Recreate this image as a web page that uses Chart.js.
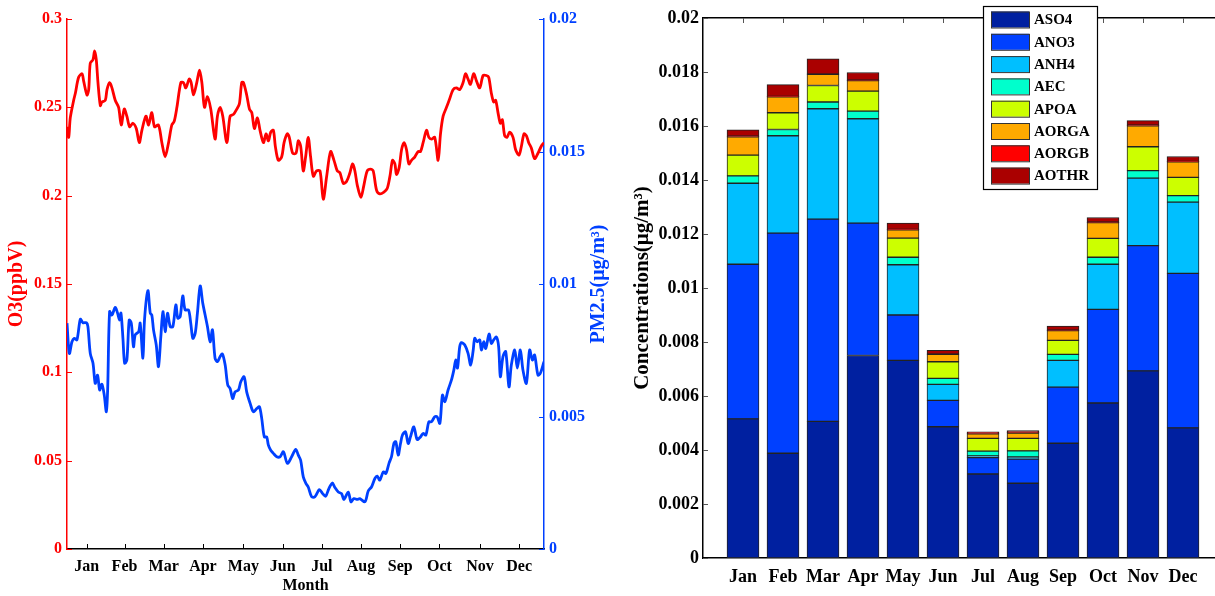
<!DOCTYPE html>
<html>
<head>
<meta charset="utf-8">
<script src="https://cdn.jsdelivr.net/npm/chart.js@4.4.1/dist/chart.umd.min.js"></script>
<style>
  html, body { margin: 0; padding: 0; overflow: hidden; background: #fff; }
  body { width: 1215px; height: 596px; position: relative; }
  #lineChart { position: absolute; left: 0; top: 0; }
  #barChart { position: absolute; left: 620px; top: 0; }
</style>
</head>
<body>
<canvas id="lineChart" width="620" height="596"></canvas>
<canvas id="barChart" width="640" height="596"></canvas>
<script>
const months = ['Jan', 'Feb', 'Mar', 'Apr', 'May', 'Jun', 'Jul', 'Aug', 'Sep', 'Oct', 'Nov', 'Dec'];
// day of year where each month tick sits on the left panel
const monthTickDay = [15, 44, 74, 104, 135, 165, 195, 225, 255, 285, 316, 346];

// O3 daily curve
const o3Day = [
  0, 1.3, 2.5, 5.1, 6.4, 8.9, 11.5, 12.7, 15.3, 16.6,
  17.8, 19.9, 21.1, 22.4, 23.7, 25.5, 26.7, 29.3, 30.6, 32.6,
  34.4, 36.9, 39.5, 41.5, 43.8, 45.8, 47.9, 50.4, 53.0, 55.3,
  57.3, 60.4, 62.4, 64.9, 67.0, 70.0, 72.6, 75.1, 77.7, 80.2,
  82.0, 84.1, 87.1, 89.1, 90.9, 93.5, 95.0, 96.8, 99.3, 101.4,
  103.2, 105.2, 107.5, 110.0, 113.3, 115.1, 117.2, 119.2, 122.3, 124.8,
  127.4, 129.9, 131.9, 133.7, 135.0, 137.5, 139.6, 141.4, 143.4, 145.7,
  147.7, 150.3, 152.3, 154.1, 155.9, 157.9, 159.4, 161.7, 164.3, 166.1,
  168.6, 170.1, 172.7, 175.2, 177.0, 178.8, 180.8, 182.6, 184.6, 186.4,
  188.5, 191.0, 193.6, 196.1, 198.7, 201.7, 204.3, 206.8, 208.8, 211.4,
  213.9, 216.5, 218.5, 220.3, 222.1, 224.9, 227.2, 229.7, 232.3, 234.3,
  236.9, 239.4, 242.5, 245.0, 247.1, 249.1, 250.9, 252.1, 254.2, 256.0,
  258.0, 259.8, 261.6, 263.6, 266.2, 268.7, 270.5, 272.5, 275.1, 276.9,
  278.9, 281.4, 284.0, 285.8, 287.8, 290.4, 292.9, 295.4, 298.0, 300.5,
  303.1, 304.9, 306.9, 308.7, 311.2, 313.3, 315.8, 318.4, 320.9, 322.7,
  324.7, 326.5, 328.0, 329.8, 331.6, 333.1, 334.9, 336.7, 338.7, 341.3,
  343.3, 345.9, 347.7, 349.7, 351.5, 353.3, 355.3, 357.8, 360.4, 362.9,
  365
];
const o3Val = [
  0.239, 0.233, 0.244, 0.254, 0.258, 0.267, 0.269, 0.265, 0.257, 0.260,
  0.275, 0.277, 0.282, 0.277, 0.264, 0.251, 0.253, 0.254, 0.260, 0.264,
  0.261, 0.254, 0.250, 0.240, 0.249, 0.245, 0.239, 0.241, 0.238, 0.230,
  0.237, 0.245, 0.240, 0.247, 0.239, 0.240, 0.230, 0.222, 0.230, 0.240,
  0.242, 0.250, 0.264, 0.264, 0.261, 0.266, 0.264, 0.257, 0.264, 0.271,
  0.264, 0.250, 0.256, 0.249, 0.232, 0.245, 0.250, 0.245, 0.230, 0.245,
  0.246, 0.249, 0.252, 0.264, 0.264, 0.257, 0.249, 0.247, 0.238, 0.244,
  0.237, 0.230, 0.235, 0.231, 0.236, 0.237, 0.228, 0.220, 0.222, 0.230,
  0.235, 0.233, 0.224, 0.224, 0.231, 0.228, 0.214, 0.222, 0.233, 0.222,
  0.211, 0.214, 0.214, 0.198, 0.211, 0.225, 0.220, 0.214, 0.213, 0.207,
  0.208, 0.213, 0.218, 0.214, 0.206, 0.199, 0.206, 0.214, 0.215, 0.214,
  0.203, 0.201, 0.202, 0.204, 0.211, 0.220, 0.218, 0.212, 0.216, 0.226,
  0.230, 0.226, 0.218, 0.220, 0.222, 0.225, 0.225, 0.230, 0.237, 0.233,
  0.232, 0.233, 0.220, 0.235, 0.245, 0.250, 0.255, 0.260, 0.261, 0.260,
  0.264, 0.269, 0.266, 0.263, 0.269, 0.265, 0.261, 0.268, 0.268, 0.267,
  0.258, 0.253, 0.254, 0.247, 0.241, 0.243, 0.234, 0.233, 0.236, 0.233,
  0.226, 0.223, 0.228, 0.235, 0.234, 0.230, 0.227, 0.221, 0.224, 0.228,
  0.230
];

// PM2.5 daily curve
const pmDay = [
  0, 1.8, 3.8, 5.6, 7.6, 10.2, 12.2, 14.8, 16.0, 17.8,
  19.9, 21.6, 23.4, 25.0, 26.7, 28.5, 30.1, 31.1, 32.6, 34.4,
  36.9, 38.7, 40.2, 41.3, 42.8, 44.1, 45.8, 47.6, 49.2, 50.9,
  52.2, 54.8, 56.0, 58.1, 59.3, 61.9, 63.7, 64.9, 66.2, 68.3,
  70.0, 71.8, 73.4, 75.1, 76.9, 79.0, 81.0, 83.3, 84.8, 86.6,
  88.6, 90.4, 93.0, 94.7, 96.3, 98.1, 99.8, 101.9, 103.9, 105.7,
  107.5, 109.5, 111.3, 113.3, 115.1, 117.2, 118.9, 121.0, 123.0, 124.8,
  126.8, 128.6, 131.2, 133.0, 135.5, 137.5, 140.1, 142.6, 145.2, 147.2,
  149.0, 151.0, 152.8, 154.1, 155.9, 157.9, 160.5, 163.0, 165.6, 168.6,
  171.9, 175.0, 177.0, 178.8, 180.8, 182.9, 184.6, 187.2, 189.7, 193.1,
  195.6, 197.9, 200.4, 203.0, 205.0, 207.6, 210.1, 211.9, 215.2, 217.3,
  219.5, 222.1, 224.1, 228.0, 230.5, 233.0, 235.6, 237.4, 239.4, 242.0,
  244.0, 246.5, 248.3, 250.1, 251.6, 253.4, 255.2, 256.7, 259.0, 261.1,
  262.8, 265.4, 267.9, 270.5, 272.5, 274.6, 276.9, 278.9, 281.4, 283.2,
  285.3, 287.3, 289.1, 291.6, 294.2, 296.0, 297.5, 298.8, 300.5, 301.8,
  304.4, 306.9, 308.9, 310.7, 312.0, 313.8, 315.8, 317.1, 318.9, 320.4,
  323.0, 324.7, 326.5, 328.6, 330.3, 331.6, 333.6, 335.7, 338.2, 340.0,
  342.6, 344.6, 346.9, 348.9, 351.5, 354.0, 356.1, 357.8, 360.4, 362.2,
  365
];
const pmVal = [
  0.00852, 0.00738, 0.00782, 0.00795, 0.00789, 0.00867, 0.00854, 0.00854, 0.00839, 0.00738,
  0.00701, 0.00625, 0.00656, 0.00600, 0.00622, 0.00581, 0.00518, 0.00600, 0.00896, 0.00883,
  0.00912, 0.00890, 0.00864, 0.00890, 0.00795, 0.00701, 0.00713, 0.00864, 0.00852, 0.00763,
  0.00808, 0.00820, 0.00852, 0.00720, 0.00864, 0.00975, 0.00890, 0.00883, 0.00827, 0.00770,
  0.00688, 0.00801, 0.00896, 0.00820, 0.00890, 0.00839, 0.00839, 0.00921, 0.00871, 0.00877,
  0.00955, 0.00902, 0.00902, 0.00852, 0.00795, 0.00814, 0.00890, 0.00993, 0.00927, 0.00883,
  0.00839, 0.00782, 0.00827, 0.00720, 0.00707, 0.00726, 0.00736, 0.00695, 0.00619, 0.00606,
  0.00568, 0.00593, 0.00600, 0.00631, 0.00650, 0.00593, 0.00550, 0.00518, 0.00530, 0.00537,
  0.00493, 0.00423, 0.00423, 0.00392, 0.00373, 0.00361, 0.00348, 0.00348, 0.00367, 0.00323,
  0.00348, 0.00376, 0.00354, 0.00335, 0.00272, 0.00247, 0.00234, 0.00197, 0.00197, 0.00224,
  0.00209, 0.00199, 0.00228, 0.00249, 0.00232, 0.00215, 0.00209, 0.00187, 0.00215, 0.00178,
  0.00190, 0.00187, 0.00190, 0.00178, 0.00219, 0.00234, 0.00266, 0.00275, 0.00260, 0.00291,
  0.00285, 0.00325, 0.00348, 0.00398, 0.00405, 0.00354, 0.00398, 0.00430, 0.00442, 0.00398,
  0.00423, 0.00461, 0.00413, 0.00423, 0.00436, 0.00430, 0.00480, 0.00480, 0.00499, 0.00499,
  0.00474, 0.00581, 0.00556, 0.00600, 0.00638, 0.00675, 0.00713, 0.00683, 0.00763, 0.00779,
  0.00770, 0.00738, 0.00694, 0.00745, 0.00795, 0.00782, 0.00789, 0.00751, 0.00782, 0.00757,
  0.00811, 0.00776, 0.00789, 0.00800, 0.00763, 0.00650, 0.00726, 0.00745, 0.00612, 0.00694,
  0.00751, 0.00683, 0.00751, 0.00675, 0.00625, 0.00751, 0.00713, 0.00732, 0.00656, 0.00663,
  0.00707
];

// monthly aerosol components, stacked bottom to top
const species = ['ASO4', 'ANO3', 'ANH4', 'AEC', 'APOA', 'AORGA', 'AORGB', 'AOTHR'];
const speciesColor = ['#0020a0', '#0040ff', '#00bfff', '#00ffcc', '#ccff00', '#ffaa00', '#ff0000', '#aa0000'];
const aso4  = [0.00515, 0.00388, 0.00506, 0.00750, 0.00732, 0.00486, 0.00311, 0.00277, 0.00425, 0.00574, 0.00693, 0.00482];
const ano3  = [0.00573, 0.00815, 0.00749, 0.00490, 0.00168, 0.00098, 0.00061, 0.00089, 0.00208, 0.00347, 0.00464, 0.00572];
const anh4  = [0.00300, 0.00361, 0.00409, 0.00387, 0.00186, 0.00059, 0.00006, 0.00008, 0.00099, 0.00167, 0.00250, 0.00264];
const aec   = [0.00027, 0.00023, 0.00025, 0.00028, 0.00028, 0.00022, 0.00018, 0.00023, 0.00022, 0.00026, 0.00028, 0.00024];
const apoa  = [0.00077, 0.00062, 0.00061, 0.00074, 0.00071, 0.00062, 0.00047, 0.00046, 0.00052, 0.00070, 0.00088, 0.00068];
const aorga = [0.00068, 0.00059, 0.00041, 0.00039, 0.00030, 0.00027, 0.00017, 0.00020, 0.00036, 0.00058, 0.00078, 0.00057];
const aorgb = [0.00002, 0.00002, 0.00002, 0.00002, 0.00002, 0.00002, 0.00002, 0.00002, 0.00002, 0.00002, 0.00002, 0.00002];
const aothr = [0.00024, 0.00043, 0.00056, 0.00028, 0.00023, 0.00013, 0.00005, 0.00007, 0.00015, 0.00017, 0.00017, 0.00018];
const speciesData = [aso4, ano3, anh4, aec, apoa, aorga, aorgb, aothr];

const serif = '"Liberation Serif", "Times New Roman", serif';
Chart.defaults.font.family = serif;
Chart.defaults.font.weight = 'bold';

const trimNum = v => String(+Number(v).toFixed(4));

// matlab style ticks pointing into the plot
const innerTicks = {
  id: 'innerTicks',
  beforeDatasetsDraw(chart, args, opts) {
    const ctx = chart.ctx;
    const len = opts.length || 5;
    ctx.save();
    ctx.lineWidth = 1;
    Object.values(chart.scales).forEach(s => {
      ctx.strokeStyle = opts.color || s.options.border.color;
      s.ticks.forEach(t => {
        const p = Math.round(s.getPixelForValue(t.value)) + 0.5;
        ctx.beginPath();
        if (s.position === 'left') { ctx.moveTo(s.right, p); ctx.lineTo(s.right + len, p); }
        else if (s.position === 'right') { ctx.moveTo(s.left, p); ctx.lineTo(s.left - len, p); }
        else if (s.position === 'bottom') { ctx.moveTo(p, s.top); ctx.lineTo(p, s.top - len); }
        else { ctx.moveTo(p, s.bottom); ctx.lineTo(p, s.bottom + len); }
        ctx.stroke();
      });
    });
    ctx.restore();
  }
};

// rotated title on the right axis, read bottom to top like the left one
const sideTitle = {
  id: 'sideTitle',
  afterDraw(chart, args, o) {
    const ctx = chart.ctx;
    const a = chart.chartArea;
    ctx.save();
    ctx.translate(o.x, (a.top + a.bottom) / 2);
    ctx.rotate(-Math.PI / 2);
    ctx.font = 'bold ' + o.size + 'px ' + serif;
    ctx.fillStyle = o.color;
    ctx.textAlign = 'center';
    ctx.textBaseline = 'middle';
    ctx.fillText(o.text, 0, 0);
    ctx.restore();
  }
};

// boxed legend sitting over the top of the bar plot
const boxLegend = {
  id: 'boxLegend',
  afterDraw(chart, args, o) {
    const ctx = chart.ctx;
    ctx.save();
    ctx.fillStyle = '#fff';
    ctx.fillRect(o.x, o.y, o.w, o.h);
    ctx.strokeStyle = '#000';
    ctx.lineWidth = 1.2;
    ctx.strokeRect(o.x + 0.5, o.y + 0.5, o.w, o.h);
    ctx.font = 'bold 15px ' + serif;
    ctx.textBaseline = 'middle';
    chart.data.datasets.forEach((ds, i) => {
      const cy = o.y + o.first + i * o.step;
      ctx.fillStyle = ds.backgroundColor;
      ctx.fillRect(o.x + 8, cy - 8, 38, 16);
      ctx.strokeStyle = '#333';
      ctx.lineWidth = 1;
      ctx.strokeRect(o.x + 8.5, cy - 7.5, 38, 16);
      ctx.fillStyle = '#000';
      ctx.fillText(ds.label, o.x + 51, cy + 1);
    });
    ctx.restore();
  }
};

const setMonthTicks = s => { s.ticks = monthTickDay.map(v => ({ value: v })); };
const setBarTicks = s => { s.ticks = months.map((m, i) => ({ value: i + 1 })); };

new Chart(document.getElementById('lineChart'), {
  type: 'line',
  data: {
    datasets: [
      {
        label: 'O3',
        data: o3Day.map((d, i) => ({ x: d, y: o3Val[i] })),
        yAxisID: 'yO3',
        borderColor: '#ff0000',
        borderWidth: 2.8,
        pointRadius: 0,
        tension: 0.3
      },
      {
        label: 'PM2.5',
        data: pmDay.map((d, i) => ({ x: d, y: pmVal[i] })),
        yAxisID: 'yPM',
        borderColor: '#0040ff',
        borderWidth: 2.8,
        pointRadius: 0,
        tension: 0.3
      }
    ]
  },
  options: {
    responsive: false,
    devicePixelRatio: 1,
    animation: false,
    layout: { padding: { top: 19, left: 0, right: 0, bottom: 0 } },
    plugins: {
      legend: { display: false },
      tooltip: { enabled: false },
      innerTicks: { length: 5 },
      sideTitle: { text: 'PM2.5(μg/m³)', x: 599, size: 20, color: '#0040ff' }
    },
    scales: {
      x: {
        type: 'linear',
        position: 'bottom',
        min: 0,
        max: 365,
        afterBuildTicks: setMonthTicks,
        afterFit: s => { s.height = 47; },
        ticks: { callback: (v, i) => months[i], color: '#000', font: { size: 16 }, padding: 8, maxRotation: 0, autoSkip: false },
        grid: { display: false, drawTicks: false },
        border: { color: '#000', width: 1.5 },
        title: { display: true, text: 'Month', color: '#000', font: { size: 16 }, padding: { top: 0, bottom: 1 } }
      },
      yO3: {
        type: 'linear',
        position: 'left',
        min: 0,
        max: 0.3,
        afterFit: s => { s.width = 67; },
        ticks: { stepSize: 0.05, color: '#ff0000', font: { size: 16 }, padding: 5, callback: trimNum },
        grid: { display: false, drawTicks: false },
        border: { color: '#ff0000', width: 1.5 },
        title: { display: true, text: 'O3(ppbV)', color: '#ff0000', font: { size: 20 }, padding: { top: 5, bottom: 0 } }
      },
      yPM: {
        type: 'linear',
        position: 'right',
        min: 0,
        max: 0.02,
        afterFit: s => { s.width = 76; },
        ticks: { stepSize: 0.005, color: '#0040ff', font: { size: 16 }, padding: 5, callback: trimNum },
        grid: { display: false, drawTicks: false },
        border: { color: '#0040ff', width: 1.5 }
      }
    }
  },
  plugins: [innerTicks, sideTitle]
});

new Chart(document.getElementById('barChart'), {
  type: 'bar',
  data: {
    datasets: species.map((name, k) => ({
      label: name,
      data: speciesData[k].map((v, i) => ({ x: i + 1, y: v })),
      backgroundColor: speciesColor[k],
      borderColor: '#222',
      borderWidth: 1,
      borderSkipped: false,
      barThickness: 32
    }))
  },
  options: {
    responsive: false,
    devicePixelRatio: 1,
    animation: false,
    layout: { padding: { top: 18, left: 0, right: 37, bottom: 0 } },
    plugins: {
      legend: { display: false },
      tooltip: { enabled: false },
      innerTicks: { length: 5, color: '#555' },
      boxLegend: { x: 363, y: 6, w: 114, h: 183, first: 13.5, step: 22.3 }
    },
    scales: {
      x: {
        type: 'linear',
        position: 'bottom',
        offset: false,
        stacked: true,
        min: 0,
        max: 13,
        afterBuildTicks: setBarTicks,
        afterFit: s => { s.height = 38; },
        ticks: { callback: (v, i) => months[i], color: '#000', font: { size: 18 }, padding: 9, maxRotation: 0, autoSkip: false },
        grid: { display: false, drawTicks: false, offset: false },
        border: { color: '#000', width: 1.5 }
      },
      xTop: {
        type: 'linear',
        position: 'top',
        offset: false,
        min: 0,
        max: 13,
        afterBuildTicks: setBarTicks,
        afterFit: s => { s.height = 0; },
        ticks: { display: false },
        grid: { display: false, drawTicks: false },
        border: { color: '#000', width: 1.5 }
      },
      y: {
        stacked: true,
        min: 0,
        max: 0.02,
        afterFit: s => { s.width = 83; },
        ticks: { stepSize: 0.002, color: '#000', font: { size: 18 }, padding: 4, callback: trimNum },
        grid: { display: false, drawTicks: false },
        border: { color: '#000', width: 1.5 },
        title: { display: true, text: 'Concentrations(μg/m³)', color: '#000', font: { size: 21 }, padding: { top: 10, bottom: 0 } }
      }
    }
  },
  plugins: [innerTicks, boxLegend]
});
</script>
</body>
</html>
